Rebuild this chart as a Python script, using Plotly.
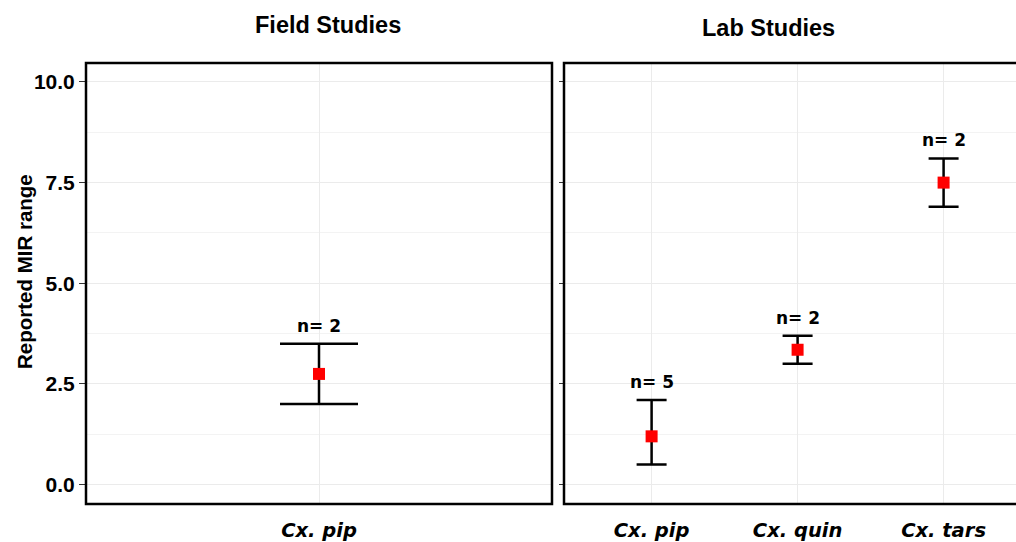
import plotly.graph_objects as go

# ---- data ----
field_species = ["Cx. pip"]
field_mean = [2.75]
field_low = [2.0]
field_high = [3.5]
field_n = [2]

lab_species = ["Cx. pip", "Cx. quin", "Cx. tars"]
lab_mean = [1.2, 3.35, 7.5]
lab_low = [0.5, 3.0, 6.9]
lab_high = [2.1, 3.7, 8.1]
lab_n = [5, 2, 2]

panel_titles = ["Field Studies", "Lab Studies"]
y_title = "Reported MIR range"
y_ticks = [0, 2.5, 5, 7.5, 10]
y_ticktext = ["0.0", "2.5", "5.0", "7.5", "10.0"]

fig = go.Figure()

def add_panel(cats, mean, low, high, xa, ya, capw):
    fig.add_trace(go.Scatter(
        x=cats, y=mean, xaxis=xa, yaxis=ya, mode="markers",
        marker=dict(symbol="square", size=12, color="#FF0000", line=dict(width=0)),
        error_y=dict(type="data", symmetric=False,
                     array=[h - m for h, m in zip(high, mean)],
                     arrayminus=[m - l for m, l in zip(mean, low)],
                     color="black", thickness=2.5, width=capw),
        showlegend=False, hoverinfo="skip"))

add_panel(field_species, field_mean, field_low, field_high, "x", "y", 39)
add_panel(lab_species, lab_mean, lab_low, lab_high, "x2", "y2", 15)

annotations = []
for cats, high, ns, xa, ya in [(field_species, field_high, field_n, "x", "y"),
                               (lab_species, lab_high, lab_n, "x2", "y2")]:
    for c, h, n in zip(cats, high, ns):
        annotations.append(dict(x=c, y=h, xref=xa, yref=ya, text=f"<b>n= {n}</b>",
                                showarrow=False, xanchor="center", yanchor="bottom", yshift=6,
                                font=dict(family="DejaVu Sans", size=17, color="black")))

W, H = 1016, 542
L, R, T, B = 86, 0, 63, 38
pw, ph = W - L - R, H - T - B

def px(xp):
    return (xp - L) / pw

def py(yp):
    return (H - B - yp) / ph

# panel titles
annotations.append(dict(x=px(328), y=py(25), xref="paper", yref="paper", text=f"<b>{panel_titles[0]}</b>",
                        showarrow=False, xanchor="center", yanchor="middle",
                        font=dict(family="Arial", size=23.5, color="black")))
annotations.append(dict(x=px(768), y=py(27.5), xref="paper", yref="paper", text=f"<b>{panel_titles[1]}</b>",
                        showarrow=False, xanchor="center", yanchor="middle",
                        font=dict(family="Arial", size=23.5, color="black")))

annotations.append(dict(x=px(24), y=py(272), xref="paper", yref="paper", text=f"<b>{y_title}</b>",
                        showarrow=False, textangle=-90, xanchor="center", yanchor="middle",
                        font=dict(family="Arial", size=20.5, color="black")))

def yaxis_common(ticklen):
    return dict(range=[-0.48, 10.47], tickvals=y_ticks,
                ticktext=[f"<b>{t}</b>" for t in y_ticktext],
                showgrid=True, gridcolor="#EBEBEB", gridwidth=1,
                minor=dict(dtick=1.25, tick0=0, showgrid=True, gridcolor="#F3F3F3", gridwidth=0.6),
                ticks="outside", ticklen=ticklen, tickwidth=1, tickcolor="#333333",
                zeroline=False, showline=False)

xfont = dict(family="DejaVu Sans", size=19.5, color="black")

fig.update_layout(
    width=W, height=H, margin=dict(l=L, r=R, t=T, b=B),
    paper_bgcolor="white", plot_bgcolor="white",
    xaxis=dict(domain=[0, px(552)], type="category", range=[-0.6, 0.6],
               tickvals=field_species, ticktext=[f"<b><i>{c}</i></b>" for c in field_species],
               tickfont=xfont, ticklabelstandoff=12,
               showgrid=True, gridcolor="#EBEBEB", gridwidth=1, ticks="", zeroline=False),
    xaxis2=dict(domain=[px(564), 1], type="category", range=[-0.6, 2.496],
                tickvals=lab_species, ticktext=[f"<b><i>{c}</i></b>" for c in lab_species],
                tickfont=xfont, ticklabelstandoff=12,
                showgrid=True, gridcolor="#EBEBEB", gridwidth=1, ticks="", zeroline=False,
                anchor="y2"),
    yaxis=dict(**yaxis_common(6), tickfont=dict(family="Arial", size=21, color="black")),
    yaxis2=dict(**yaxis_common(4), anchor="x2", matches="y", showticklabels=False),
    annotations=annotations,
    shapes=[
        dict(type="rect", xref="paper", yref="paper", x0=0, x1=px(552), y0=0, y1=1,
             line=dict(color="black", width=2.5), fillcolor="rgba(0,0,0,0)"),
        dict(type="rect", xref="paper", yref="paper", x0=px(564), x1=1.03, y0=0, y1=1,
             line=dict(color="black", width=2.5), fillcolor="rgba(0,0,0,0)"),
    ],
)

fig.write_html("out.html")
